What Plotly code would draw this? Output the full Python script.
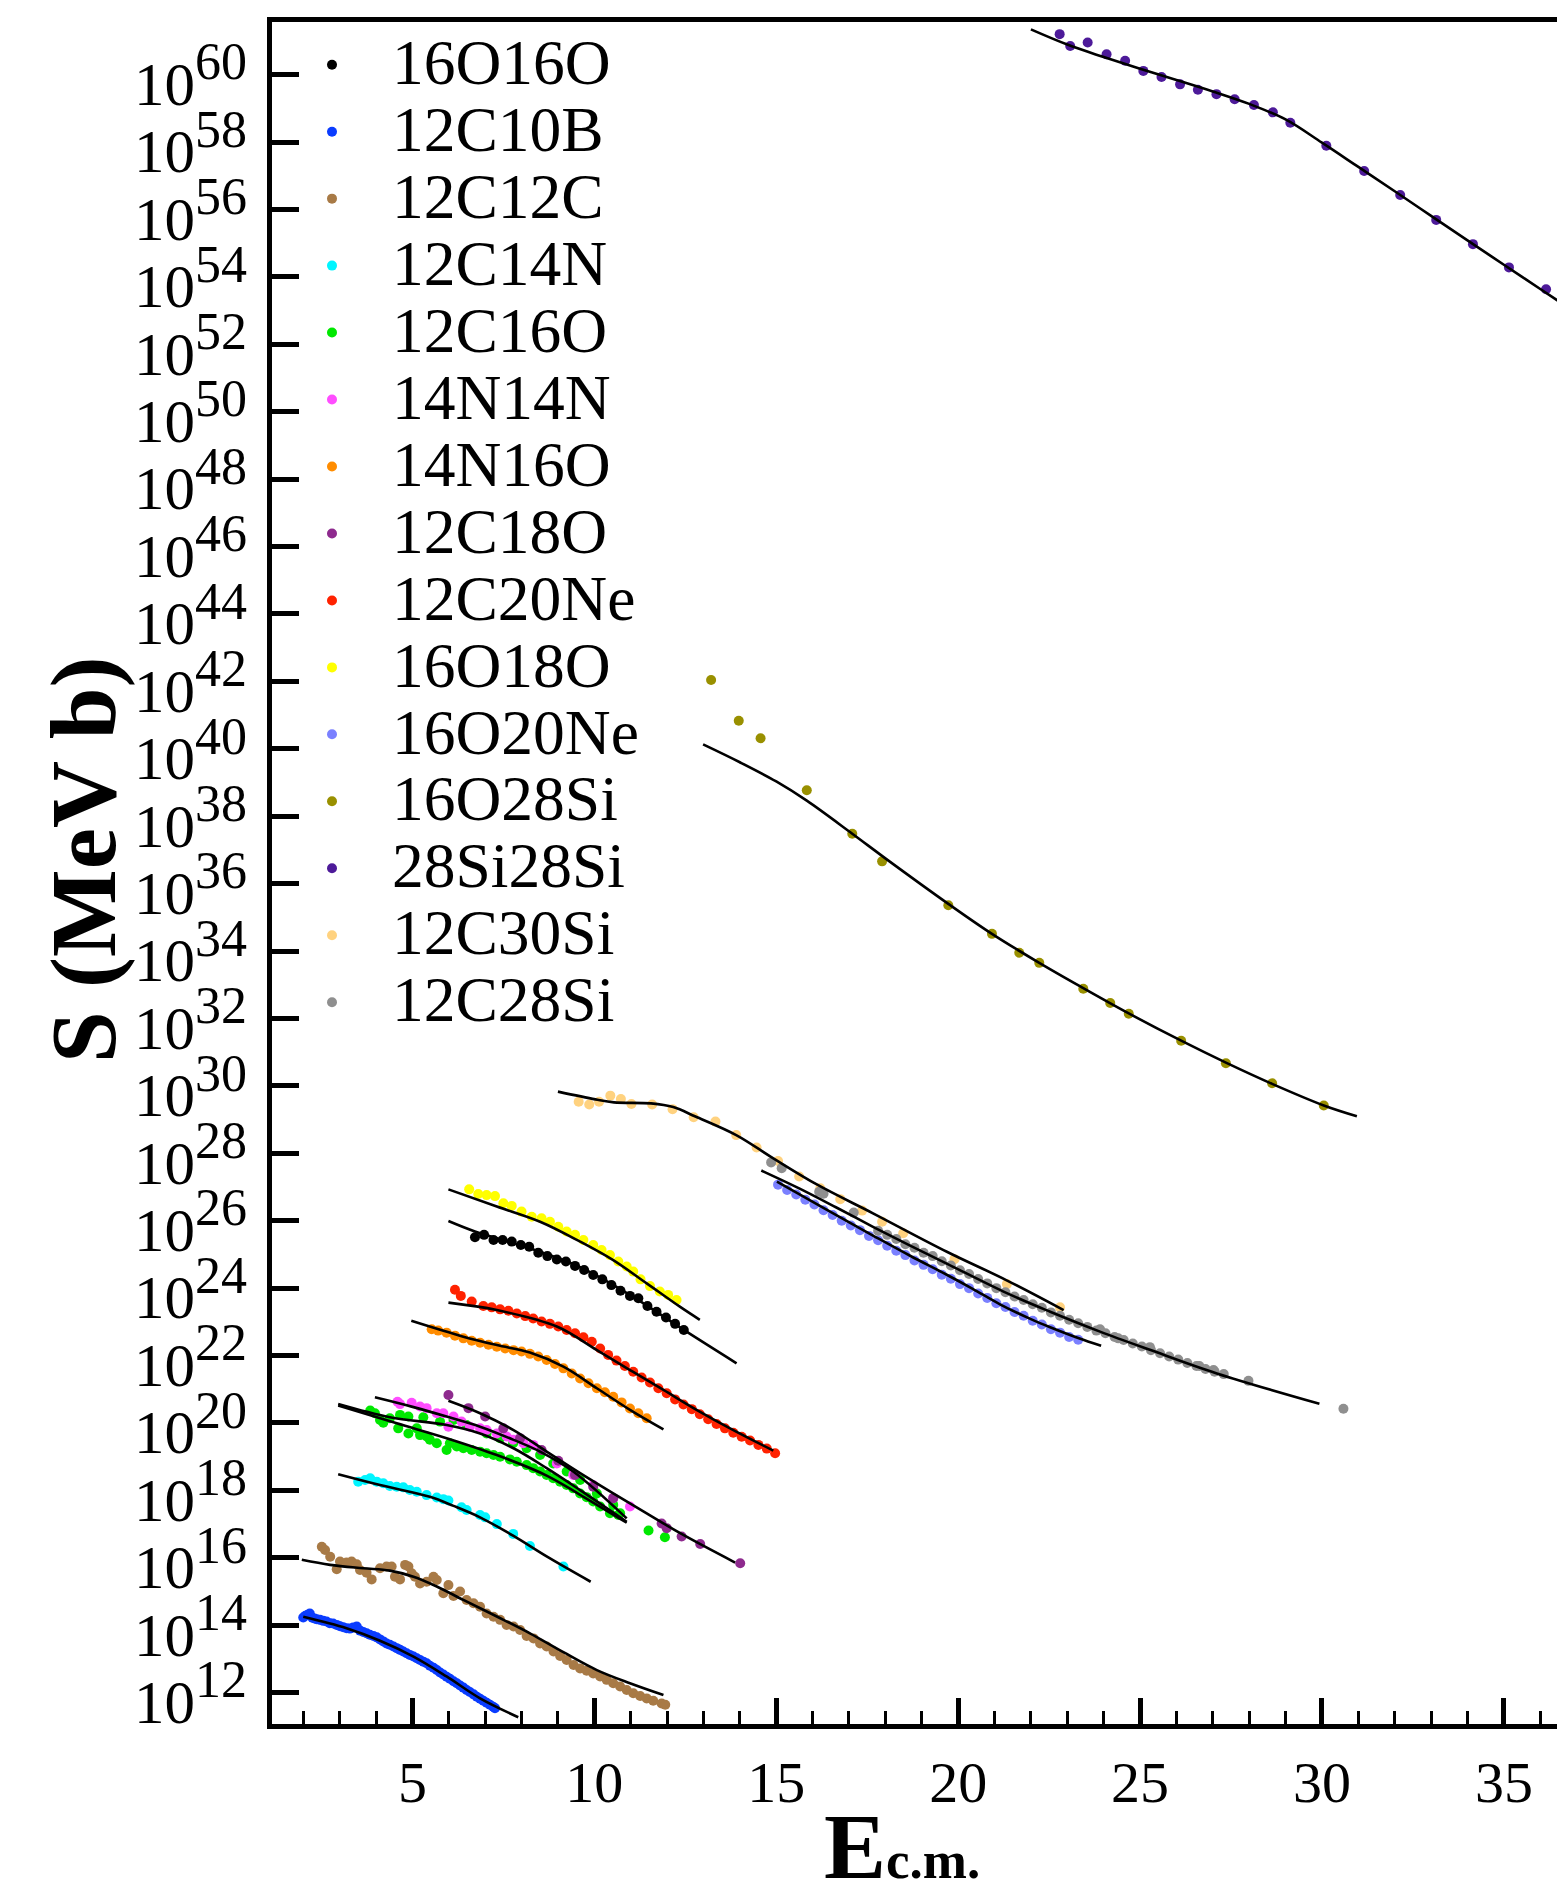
import plotly.graph_objects as go

FONT = "Liberation Serif"

# ---------------- data: E_cm (MeV) and log10 S (MeV b) ----------------
E_16O16O = [6.72, 6.97, 7.23, 7.48, 7.73, 7.98, 8.21, 8.46, 8.71, 8.97, 9.22, 9.47, 9.72, 9.97,
            10.22, 10.47, 10.72, 10.98, 11.21, 11.46, 11.71, 11.97, 12.22, 12.46]
logS_16O16O = [25.51, 25.58, 25.43, 25.43, 25.38, 25.28, 25.23, 25.05, 24.95, 24.85, 24.79, 24.66,
               24.54, 24.39, 24.26, 24.09, 23.92, 23.77, 23.70, 23.47, 23.30, 23.13, 22.94, 22.76]
fitE_16O16O = [5.99, 6.72, 8.23, 9.61, 10.98, 12.46, 13.91]
fitS_16O16O = [25.99, 25.68, 25.18, 24.62, 23.80, 22.76, 21.77]

E_12C10B = [2.00, 2.06, 2.12, 2.18, 2.25, 2.31, 2.37, 2.46, 2.55, 2.64, 2.73, 2.82, 2.92, 3.01,
            3.10, 3.19, 3.28, 3.37, 3.47, 3.56, 3.65, 3.74, 3.83, 3.93, 4.02, 4.11, 4.20, 4.29,
            4.38, 4.48, 4.57, 4.66, 4.75, 4.84, 4.93, 5.03, 5.12, 5.21, 5.30, 5.39, 5.48, 5.58,
            5.67, 5.76, 5.85, 5.94, 6.03, 6.13, 6.22, 6.31, 6.40, 6.49, 6.58, 6.68, 6.77, 6.86,
            6.95, 7.04, 7.13, 7.22, 7.27]
logS_12C10B = [14.23, 14.28, 14.31, 14.35, 14.22, 14.20, 14.18, 14.16, 14.13, 14.11, 14.06, 14.05,
               14.01, 13.97, 13.94, 13.91, 13.90, 13.93, 13.96, 13.84, 13.80, 13.76, 13.72, 13.68,
               13.64, 13.58, 13.52, 13.46, 13.42, 13.37, 13.32, 13.27, 13.22, 13.17, 13.12, 13.07,
               13.02, 12.97, 12.92, 12.87, 12.80, 12.74, 12.67, 12.60, 12.54, 12.47, 12.41, 12.34,
               12.28, 12.21, 12.15, 12.08, 12.02, 11.95, 11.88, 11.82, 11.76, 11.70, 11.64, 11.58,
               11.54]
fitE_12C10B = [2.00, 3.19, 4.11, 5.03, 5.94, 6.86, 7.91]
fitS_12C10B = [14.25, 13.91, 13.54, 13.07, 12.48, 11.83, 11.27]

E_12C12C = [2.51, 2.60, 2.74, 2.92, 3.01, 3.19, 3.33, 3.47, 3.56, 3.74, 3.88, 4.11, 4.29, 4.43,
            4.52, 4.66, 4.80, 4.89, 4.98, 5.07, 5.21, 5.39, 5.58, 5.67, 5.85, 5.99, 6.13, 6.31,
            6.49, 6.68, 6.86, 7.04, 7.23, 7.41, 7.59, 7.78, 7.96, 8.14, 8.33, 8.51, 8.69, 8.88,
            9.06, 9.24, 9.43, 9.61, 9.79, 9.97, 10.16, 10.34, 10.52, 10.71, 10.89, 11.07, 11.26,
            11.44, 11.62, 11.85, 11.95]
logS_12C12C = [16.33, 16.23, 16.03, 15.66, 15.89, 15.86, 15.89, 15.81, 15.64, 15.56, 15.36, 15.69,
               15.74, 15.74, 15.44, 15.36, 15.79, 15.74, 15.54, 15.44, 15.24, 15.29, 15.44, 15.34,
               14.95, 15.19, 14.87, 15.00, 14.75, 14.65, 14.55, 14.35, 14.25, 14.16, 14.01, 13.96,
               13.86, 13.68, 13.61, 13.46, 13.37, 13.22, 13.09, 12.97, 12.82, 12.72, 12.65, 12.57,
               12.48, 12.38, 12.28, 12.18, 12.08, 11.98, 11.90, 11.83, 11.76, 11.68, 11.64]
fitE_12C12C = [1.96, 2.74, 3.65, 4.38, 5.03, 5.67, 6.40, 7.32, 8.23, 9.15, 10.07, 10.98, 11.90]
fitS_12C12C = [15.94, 15.79, 15.69, 15.62, 15.44, 15.15, 14.75, 14.26, 13.76, 13.20, 12.67, 12.28, 11.93]

E_12C14N = [3.51, 3.70, 3.84, 4.02, 4.20, 4.38, 4.57, 4.75, 4.93, 5.12, 5.39, 5.67, 5.85, 5.99,
            6.35, 6.49, 6.86, 7.00, 7.32, 7.77, 8.23, 9.15]
logS_12C14N = [18.26, 18.31, 18.36, 18.26, 18.21, 18.13, 18.11, 18.09, 18.01, 17.96, 17.86, 17.79,
               17.74, 17.70, 17.50, 17.42, 17.27, 17.20, 17.00, 16.71, 16.35, 15.74]
fitE_12C14N = [2.96, 4.11, 5.48, 6.13, 6.86, 7.78, 8.69, 9.90]
fitS_12C14N = [18.48, 18.16, 17.81, 17.54, 17.20, 16.65, 16.04, 15.29]

E_12C16O = [3.84, 3.97, 4.11, 4.20, 4.38, 4.61, 4.66, 4.89, 4.89, 5.12, 5.21, 5.39, 5.48, 5.67,
            5.76, 5.94, 6.03, 6.22, 6.40, 6.63, 6.86, 7.04, 7.23, 7.41, 7.68, 7.87, 8.14, 8.32,
            8.51, 8.69, 8.87, 9.06, 9.24, 9.42, 9.61, 9.79, 9.97, 10.16, 10.43, 10.66, 11.49,
            11.94, 5.30, 6.13, 6.49, 7.04, 7.41, 7.77, 8.14, 8.51, 8.87, 9.24, 9.61, 10.07, 10.52,
            10.71]
logS_12C16O = [20.37, 20.29, 20.09, 20.01, 20.14, 19.84, 20.24, 19.69, 20.19, 19.84, 19.64, 19.60,
               19.50, 19.40, 20.04, 19.20, 19.40, 19.30, 19.25, 19.20, 19.15, 19.10, 19.05, 19.00,
               18.92, 18.85, 18.75, 18.66, 18.56, 18.46, 18.36, 18.26, 18.16, 18.06, 17.91, 17.80,
               17.67, 17.52, 17.32, 17.27, 16.81, 16.61, 20.17, 20.09, 19.94, 19.69, 19.55, 19.40,
               19.25, 19.05, 18.80, 18.56, 18.31, 17.91, 17.57, 17.32]
fitE_12C16O_a = [2.96, 4.38, 5.94, 6.86, 7.78, 8.69, 9.61, 10.89]
fitS_12C16O_a = [20.56, 20.17, 19.94, 19.69, 19.25, 18.66, 18.01, 17.07]
fitE_12C16O_b = [2.96, 4.57, 5.94, 7.32, 8.69, 9.61, 10.89]
fitS_12C16O_b = [20.52, 19.99, 19.55, 19.05, 18.44, 17.87, 17.04]

E_14N14N = [4.59, 4.66, 4.98, 5.21, 5.39, 5.67, 5.85, 5.99, 6.13, 6.35, 6.58, 6.86, 7.04, 7.32,
            7.59, 7.77, 8.05, 8.32, 8.97, 9.42, 9.97, 10.52, 10.98]
logS_14N14N = [20.63, 20.56, 20.60, 20.49, 20.44, 20.29, 20.29, 19.89, 20.19, 20.04, 19.89, 19.84,
               19.79, 19.69, 19.60, 19.50, 19.40, 19.35, 18.80, 18.46, 18.16, 17.77, 17.52]
fitE_14N14N = [3.97, 5.03, 5.94, 6.86, 7.78, 8.51, 9.42, 10.89]
fitS_14N14N = [20.76, 20.47, 20.19, 19.89, 19.50, 19.15, 18.56, 17.17]

E_14N16O = [5.53, 5.71, 5.94, 6.17, 6.40, 6.63, 6.86, 7.09, 7.32, 7.55, 7.78, 8.00, 8.23, 8.46,
            8.69, 8.92, 9.15, 9.38, 9.61, 9.84, 10.07, 10.29, 10.52, 10.75, 10.98, 11.21, 11.44]
logS_14N16O = [22.78, 22.74, 22.68, 22.59, 22.51, 22.44, 22.38, 22.32, 22.26, 22.21, 22.16, 22.12,
               22.05, 21.97, 21.87, 21.75, 21.62, 21.47, 21.32, 21.18, 21.03, 20.91, 20.78, 20.61,
               20.43, 20.29, 20.14]
fitE_14N16O = [4.97, 6.40, 7.32, 8.23, 9.15, 10.07, 10.98, 11.90]
fitS_14N16O = [23.03, 22.56, 22.31, 22.09, 21.67, 21.03, 20.39, 19.81]

E_12C18O = [5.99, 6.54, 7.00, 7.50, 7.96, 8.55, 9.01, 9.47, 9.97, 10.52, 11.85, 11.99, 12.40,
            12.91, 14.01]
logS_12C18O = [20.83, 20.44, 20.19, 19.84, 19.55, 19.20, 18.88, 18.46, 18.11, 17.77, 17.02, 16.88,
               16.63, 16.41, 15.84]
fitE_12C18O = [5.99, 6.86, 7.78, 8.69, 9.61, 10.52, 11.44, 12.36, 13.87]
fitS_12C18O = [20.66, 20.29, 19.79, 19.15, 18.51, 17.91, 17.32, 16.73, 15.86]

E_12C20Ne = [6.17, 6.33, 6.63, 6.95, 7.18, 7.41, 7.64, 7.87, 8.10, 8.32, 8.55, 8.78, 9.01, 9.24,
             9.47, 9.70, 9.93, 10.16, 10.38, 10.61, 10.84, 11.07, 11.30, 11.53, 11.76, 11.99,
             12.22, 12.45, 12.68, 12.90, 13.13, 13.36, 13.59, 13.82, 14.05, 14.28, 14.51, 14.74,
             14.97]
logS_12C20Ne = [23.95, 23.77, 23.60, 23.47, 23.43, 23.37, 23.33, 23.25, 23.17, 23.10, 23.01, 22.94,
                22.86, 22.76, 22.66, 22.54, 22.41, 22.21, 22.02, 21.85, 21.69, 21.52, 21.35, 21.20,
                21.03, 20.88, 20.70, 20.55, 20.41, 20.26, 20.11, 19.97, 19.84, 19.71, 19.59, 19.48,
                19.35, 19.24, 19.10]
fitE_12C20Ne = [5.99, 7.32, 8.97, 10.06, 10.98, 11.90, 12.81, 13.73, 14.92]
fitS_12C20Ne = [23.57, 23.35, 22.86, 22.17, 21.57, 20.98, 20.39, 19.84, 19.18]

E_16O18O = [6.56, 6.81, 7.04, 7.27, 7.50, 7.73, 8.00, 8.28, 8.55, 8.78, 9.01, 9.24, 9.47, 9.70,
            9.97, 10.20, 10.43, 10.66, 10.89, 11.07, 11.27, 11.53, 11.80, 12.03, 12.26]
logS_16O18O = [26.93, 26.79, 26.76, 26.73, 26.52, 26.44, 26.27, 26.12, 26.07, 25.97, 25.82, 25.68,
               25.58, 25.43, 25.28, 25.13, 24.98, 24.79, 24.64, 24.49, 24.26, 24.06, 23.90, 23.80,
               23.65]
fitE_16O18O = [5.99, 7.32, 8.51, 9.61, 10.52, 11.44, 12.35, 12.90]
fitS_16O18O = [26.93, 26.42, 25.97, 25.38, 24.83, 24.14, 23.45, 23.06]

E_16O20Ne = [15.05, 15.30, 15.55, 15.80, 16.05, 16.30, 16.55, 16.80, 17.05, 17.30, 17.55, 17.80,
             18.05, 18.30, 18.55, 18.80, 19.05, 19.30, 19.55, 19.80, 20.05, 20.30, 20.55, 20.80,
             21.05, 21.30, 21.55, 21.80, 22.05, 22.30, 22.55, 22.80, 23.05, 23.30]
logS_16O20Ne = [27.07, 26.91, 26.78, 26.62, 26.48, 26.31, 26.17, 26.00, 25.86, 25.72, 25.55, 25.42,
                25.26, 25.11, 24.98, 24.82, 24.69, 24.56, 24.40, 24.28, 24.12, 24.00, 23.84, 23.71,
                23.55, 23.44, 23.29, 23.18, 23.03, 22.92, 22.78, 22.68, 22.55, 22.47]
fitE_16O20Ne = [15.02, 15.63, 16.64, 17.66, 18.68, 19.70, 20.40, 21.15, 22.00, 22.53, 23.30, 23.93]
fitS_16O20Ne = [27.16, 26.79, 26.17, 25.56, 24.96, 24.39, 23.98, 23.52, 23.08, 22.84, 22.52, 22.29]

E_16O28Si = [13.21, 13.97, 14.57, 15.84, 17.09, 17.91, 19.73, 20.93, 21.68, 22.23, 23.44, 24.18,
             24.69, 26.13, 27.36, 28.63, 30.05]
logS_16O28Si = [42.04, 40.83, 40.31, 38.77, 37.48, 36.66, 35.36, 34.51, 33.95, 33.65, 32.88, 32.46,
                32.14, 31.34, 30.67, 30.08, 29.42]
fitE_16O28Si = [12.99, 14.0, 15.0, 15.84, 17.09, 18.0, 19.73, 20.93, 22.23, 23.44, 24.69, 26.13,
                27.36, 28.63, 30.05, 30.96]
fitS_16O28Si = [40.13, 39.60, 39.03, 38.46, 37.48, 36.75, 35.40, 34.51, 33.65, 32.90, 32.15, 31.34,
                30.69, 30.06, 29.42, 29.10]

E_28Si28Si = [22.79, 23.08, 23.56, 24.08, 24.59, 25.09, 25.59, 26.10, 26.59, 27.10, 27.60, 28.13,
              28.65, 29.13, 30.12, 31.16, 32.15, 33.14, 34.15, 35.14, 36.16]
logS_28Si28Si = [61.20, 60.85, 60.95, 60.60, 60.41, 60.11, 59.93, 59.71, 59.55, 59.42, 59.27, 59.10,
                  58.88, 58.57, 57.89, 57.14, 56.43, 55.69, 54.97, 54.28, 53.63]
fitE_28Si28Si = [22.0, 23.0, 24.0, 25.0, 26.0, 27.0, 28.0, 29.0, 30.0, 31.0, 32.0, 33.0, 34.0, 35.0,
                 36.0, 37.0]
fitS_28Si28Si = [61.34, 60.89, 60.52, 60.17, 59.84, 59.50, 59.13, 58.67, 57.98, 57.26, 56.54, 55.81,
                 55.08, 54.36, 53.64, 52.92]

E_12C30Si = [9.57, 9.86, 10.13, 10.44, 10.73, 11.02, 11.59, 12.15, 12.73, 13.33, 13.90, 14.46,
             15.05, 15.63, 16.21, 16.76, 17.36, 17.91, 18.49, 19.90, 21.34, 22.80]
logS_12C30Si = [29.53, 29.45, 29.53, 29.71, 29.61, 29.46, 29.45, 29.31, 29.07, 28.94, 28.54, 28.17,
                27.77, 27.31, 26.96, 26.64, 26.30, 25.97, 25.63, 24.86, 24.12, 23.43]
fitE_12C30Si = [9.00, 10.03, 10.54, 11.56, 12.17, 12.78, 13.90, 14.92, 16.14, 17.66, 19.69, 21.32, 22.90]
fitS_12C30Si = [29.83, 29.60, 29.51, 29.48, 29.37, 29.09, 28.54, 27.85, 27.06, 26.22, 25.08, 24.24, 23.35]

E_12C28Si = [14.86, 15.15, 16.18, 16.30, 17.13, 17.80, 18.05, 18.30, 18.55, 18.80, 19.05, 19.30,
             19.55, 19.80, 20.05, 20.30, 20.55, 20.80, 21.05, 21.30, 21.55, 21.80, 22.05, 22.30,
             22.55, 22.80, 23.05, 23.30, 23.55, 23.80, 23.90, 24.05, 24.30, 24.40, 24.55, 24.80,
             25.05, 25.27, 25.30, 25.55, 25.80, 26.05, 26.30, 26.55, 26.63, 26.80, 27.02, 27.05,
             27.30, 27.98, 30.59]
logS_12C28Si = [27.73, 27.56, 26.86, 26.80, 26.24, 25.70, 25.58, 25.46, 25.30, 25.20, 25.05, 24.95,
                24.80, 24.67, 24.53, 24.42, 24.27, 24.14, 24.00, 23.88, 23.75, 23.65, 23.52, 23.42,
                23.28, 23.18, 23.06, 22.96, 22.85, 22.74, 22.78, 22.66, 22.55, 22.51, 22.46, 22.36,
                22.27, 22.25, 22.16, 22.07, 21.97, 21.88, 21.78, 21.69, 21.69, 21.60, 21.57, 21.52,
                21.45, 21.25, 20.42]
fitE_12C28Si = [14.59, 15.63, 16.64, 17.66, 18.68, 19.70, 21.34, 22.53, 23.90, 25.27, 27.11, 29.93]
fitS_12C28Si = [27.49, 26.96, 26.40, 25.82, 25.26, 24.72, 23.85, 23.30, 22.71, 22.17, 21.47, 20.57]

# axis ticks
x_tick_vals = [5, 10, 15, 20, 25, 30, 35]
y_tick_exps = list(range(12, 61, 2))

series = [
    ("16O16O", "#000000", E_16O16O, logS_16O16O, [(fitE_16O16O, fitS_16O16O)]),
    ("12C10B", "#0a3cff", E_12C10B, logS_12C10B, [(fitE_12C10B, fitS_12C10B)]),
    ("12C12C", "#a87a46", E_12C12C, logS_12C12C, [(fitE_12C12C, fitS_12C12C)]),
    ("12C14N", "#00f5ff", E_12C14N, logS_12C14N, [(fitE_12C14N, fitS_12C14N)]),
    ("12C16O", "#00e800", E_12C16O, logS_12C16O, [(fitE_12C16O_a, fitS_12C16O_a),
                                                   (fitE_12C16O_b, fitS_12C16O_b)]),
    ("14N14N", "#ff4dff", E_14N14N, logS_14N14N, [(fitE_14N14N, fitS_14N14N)]),
    ("14N16O", "#ff8c00", E_14N16O, logS_14N16O, [(fitE_14N16O, fitS_14N16O)]),
    ("12C18O", "#8e2a8e", E_12C18O, logS_12C18O, [(fitE_12C18O, fitS_12C18O)]),
    ("12C20Ne", "#ff2200", E_12C20Ne, logS_12C20Ne, [(fitE_12C20Ne, fitS_12C20Ne)]),
    ("16O18O", "#ffff00", E_16O18O, logS_16O18O, [(fitE_16O18O, fitS_16O18O)]),
    ("16O20Ne", "#7a80ff", E_16O20Ne, logS_16O20Ne, [(fitE_16O20Ne, fitS_16O20Ne)]),
    ("16O28Si", "#999000", E_16O28Si, logS_16O28Si, [(fitE_16O28Si, fitS_16O28Si)]),
    ("28Si28Si", "#4d1a99", E_28Si28Si, logS_28Si28Si, [(fitE_28Si28Si, fitS_28Si28Si)]),
    ("12C30Si", "#ffd27f", E_12C30Si, logS_12C30Si, [(fitE_12C30Si, fitS_12C30Si)]),
    ("12C28Si", "#8f8f8f", E_12C28Si, logS_12C28Si, [(fitE_12C28Si, fitS_12C28Si)]),
]

fig = go.Figure()
for name, color, ex, ls, fits in series:
    fig.add_trace(go.Scatter(
        x=ex, y=[10.0 ** v for v in ls], mode="markers",
        name="<span style='font-size:63.5px'>" + name + "</span>",
        marker=dict(color=color, size=10, line=dict(width=0)),
    ))
for name, color, ex, ls, fits in series:
    for fe, fs in fits:
        fig.add_trace(go.Scatter(
            x=fe, y=[10.0 ** v for v in fs], mode="lines", name=name + " fit",
            showlegend=False, line=dict(color="black", width=2.6, shape="spline", smoothing=1.0),
        ))

# plot area (figure px): left 264, top 14, bottom 1716
fig.update_layout(
    width=1557, height=1884,
    margin=dict(l=264, r=0, t=14, b=168),
    paper_bgcolor="white", plot_bgcolor="white",
    font=dict(family=FONT, color="black"),
    showlegend=True,
    legend=dict(x=0.0, y=0.9975, xanchor="left", yanchor="top",
                font=dict(family=FONT, size=49.2, color="black"),
                itemwidth=110, bgcolor="rgba(0,0,0,0)", borderwidth=0,
                tracegroupgap=0),
    annotations=[
        dict(text="<b>S (MeV b)</b>", textangle=-90, showarrow=False,
             xref="paper", yref="paper", x=0, y=0.5, xanchor="center", yanchor="middle",
             xshift=-189, yshift=13, font=dict(family=FONT, size=93, color="black")),
        dict(text="<b>E<span style='font-size:53px'>c.m.</span></b>", showarrow=False,
             xref="paper", yref="paper", x=0, y=0, xanchor="center", yanchor="middle",
             xshift=630, yshift=-122, font=dict(family=FONT, size=93, color="black")),
    ],
)
fig.update_xaxes(
    range=[1.141, 36.68], showgrid=False, zeroline=False,
    showline=True, linewidth=4.5, linecolor="black", mirror=True,
    ticks="inside", ticklen=26, tickwidth=4.5, tickcolor="black",
    tickvals=x_tick_vals, tickfont=dict(family=FONT, size=58),
    ticklabelstandoff=4,
    minor=dict(dtick=1, ticks="inside", ticklen=13, tickwidth=3, tickcolor="black", showgrid=False),
)
fig.update_yaxes(
    type="log", range=[11.07, 61.56], showgrid=False, zeroline=False,
    showline=True, linewidth=4.5, linecolor="black", mirror=False,
    ticks="inside", ticklen=27, tickwidth=5, tickcolor="black",
    tickvals=[10.0 ** k for k in y_tick_exps],
    ticktext=["10<sup><span style='font-size:52px'>%d</span></sup>" % k for k in y_tick_exps],
    tickfont=dict(family=FONT, size=61),
    ticklabelstandoff=8, ticklabelshift=9,
)

fig.write_html("out.html")
